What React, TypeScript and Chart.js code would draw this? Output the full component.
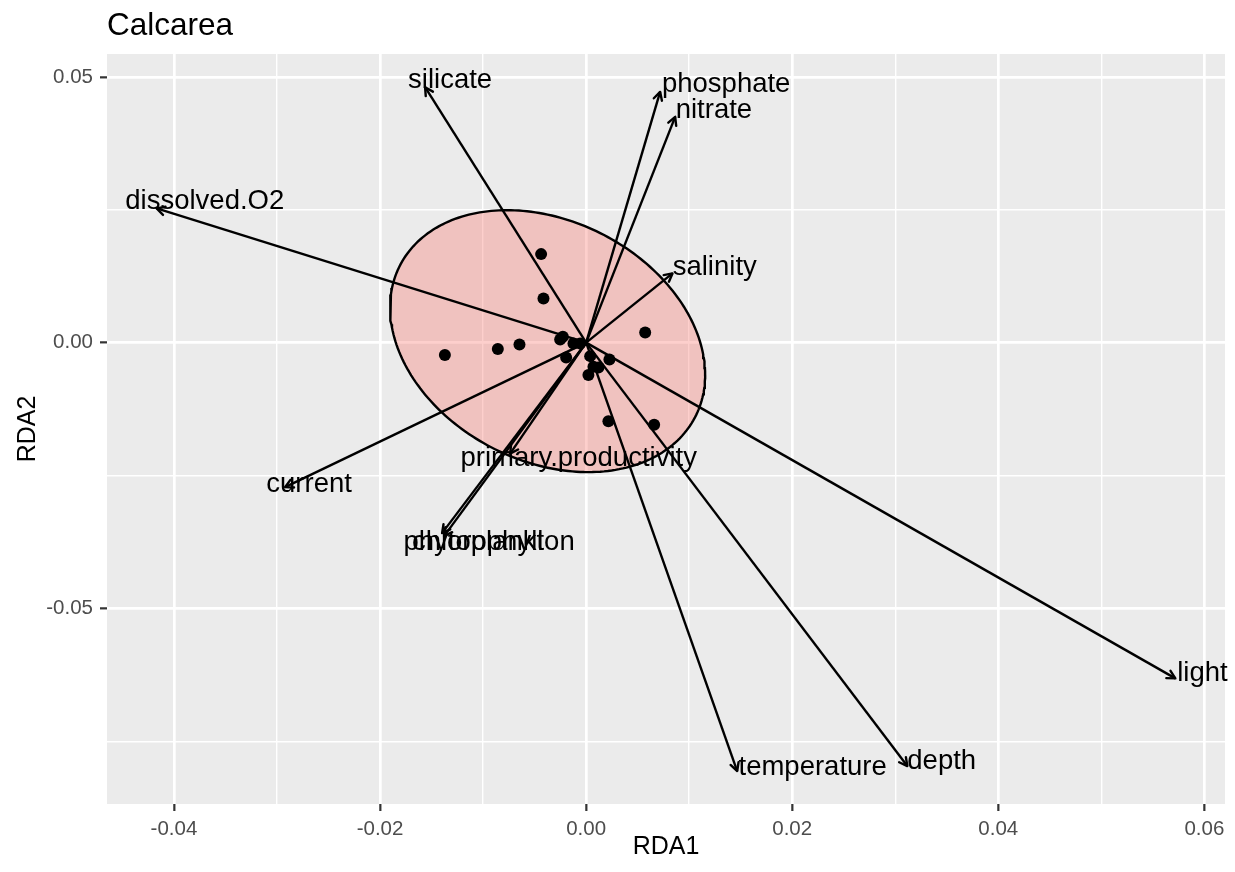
import React, { useEffect, useRef } from "react";
import { Chart, registerables } from "chart.js";

Chart.register(...registerables);

const FONT = "'Liberation Sans', Arial, Helvetica, sans-serif";

const plotTitle = "Calcarea";
const xAxisTitle = "RDA1";
const yAxisTitle = "RDA2";

// Site scores on the first two RDA axes
const siteRDA1 = [-0.00437, -0.00414, -0.01371, -0.00857, -0.00647, 0.00573, -0.00252, -0.00226, -0.00123, -0.00058, -0.00194, 0.00039, 0.00226, 0.00071, 0.00119, 0.00022, 0.00216, 0.0066];
const siteRDA2 = [0.01665, 0.00832, -0.00235, -0.00122, -0.00034, 0.00191, 0.0006, 0.00109, -0.00015, -0.00015, -0.00278, -0.00254, -0.00317, -0.00455, -0.00466, -0.00611, -0.01477, -0.01547];

// Environmental variable vectors (arrow tips) and their label anchors
const envNames = ["silicate", "phosphate", "nitrate", "salinity", "dissolved.O2", "current", "primary.productivity", "chlorophyll", "phytoplankton", "temperature", "depth", "light"];
const envRDA1 = [-0.01563, 0.00718, 0.00864, 0.00838, -0.04168, -0.02922, -0.00738, -0.01398, -0.01379, 0.01466, 0.03117, 0.05718];
const envRDA2 = [0.04806, 0.04718, 0.04248, 0.01302, 0.02524, -0.02718, -0.02088, -0.03584, -0.0364, -0.0806, -0.07966, -0.06317];
const envLabelRDA1 = [-0.0132, 0.01359, 0.0124, 0.01248, -0.03701, -0.02689, -0.00072, -0.01053, -0.00942, 0.02198, 0.03451, 0.05981];
const envLabelRDA2 = [0.04938, 0.04852, 0.04376, 0.01415, 0.02651, -0.02673, -0.02172, -0.03764, -0.03764, -0.07996, -0.07883, -0.06228];

// Confidence ellipse of the site scores: centre, spread along each axis, correlation
const ellipseCenter = [-0.00374, 0.00028];
const ellipseSpread = [0.01529, 0.02464];
const ellipseCorr = -0.257;

// Axis limits and breaks
const xLimits = [-0.0465, 0.062];
const yLimits = [-0.0868, 0.0543];
const xMajorBreaks = [-0.04, -0.02, 0, 0.02, 0.04, 0.06];
const xMinorBreaks = [-0.03, -0.01, 0.01, 0.03, 0.05];
const xBreakLabels = ["-0.04", "-0.02", "0.00", "0.02", "0.04", "0.06"];
const yMajorBreaks = [-0.05, 0, 0.05];
const yMinorBreaks = [-0.075, -0.025, 0.025];
const yBreakLabels = ["-0.05", "0.00", "0.05"];

const PANEL_BG = "#EBEBEB";
const ELLIPSE_FILL = "rgba(248, 118, 109, 0.35)";
const STROKE = 2.4;

function ellipsePath(steps: number) {
  const pts: { x: number; y: number }[] = [];
  const k = Math.sqrt(1 - ellipseCorr * ellipseCorr);
  for (let i = 0; i <= steps; i++) {
    const t = (i / steps) * Math.PI * 2;
    pts.push({
      x: ellipseCenter[0] + ellipseSpread[0] * Math.cos(t),
      y: ellipseCenter[1] + ellipseSpread[1] * (ellipseCorr * Math.cos(t) + k * Math.sin(t)),
    });
  }
  return pts;
}

const near = (a: number, b: number) => Math.abs(a - b) < 1e-9;
const isIn = (list: number[], v: number) => list.some((b) => near(b, v));

function axisOptions(
  limits: number[],
  major: number[],
  minor: number[],
  labels: string[],
  title: string,
  horizontal: boolean
) {
  const all = [...major, ...minor].sort((a, b) => a - b);
  return {
    type: "linear" as const,
    min: limits[0],
    max: limits[1],
    afterBuildTicks: (scale: any) => {
      scale.ticks = all.map((v) => ({ value: v }));
    },
    afterFit: (scale: any) => {
      if (horizontal) scale.height = 68;
      else scale.width = 107;
    },
    border: { display: false },
    grid: {
      drawTicks: true,
      tickLength: 7,
      color: "#FFFFFF",
      lineWidth: (ctx: any) => (ctx.tick && isIn(major, ctx.tick.value) ? 2.7 : 1.4),
      tickColor: (ctx: any) => (ctx.tick && isIn(major, ctx.tick.value) ? "#333333" : "rgba(0,0,0,0)"),
      tickWidth: 2.2,
    },
    ticks: {
      autoSkip: false,
      maxRotation: 0,
      padding: horizontal ? 6 : 7,
      color: "#4D4D4D",
      font: { family: FONT, size: 20.5 },
      callback: (value: number) => {
        const i = major.findIndex((b) => near(b, Number(value)));
        return i >= 0 ? labels[i] : "";
      },
    },
    title: {
      display: true,
      text: title,
      color: "#000000",
      font: { family: FONT, size: 25 },
      padding: horizontal ? { top: 0, bottom: 10 } : { top: 13, bottom: 0 },
    },
  };
}

const biplotDecorations = {
  id: "biplotDecorations",
  beforeDraw(chart: any) {
    const { ctx, chartArea } = chart;
    ctx.save();
    ctx.fillStyle = PANEL_BG;
    ctx.fillRect(chartArea.left, chartArea.top, chartArea.right - chartArea.left, chartArea.bottom - chartArea.top);
    ctx.fillStyle = "#000000";
    ctx.font = `31.5px ${FONT}`;
    ctx.textAlign = "left";
    ctx.textBaseline = "alphabetic";
    ctx.fillText(plotTitle, chartArea.left, 35);
    ctx.restore();
  },
  afterDatasetsDraw(chart: any) {
    const { ctx } = chart;
    const xs = chart.scales.x;
    const ys = chart.scales.y;
    const ox = xs.getPixelForValue(0);
    const oy = ys.getPixelForValue(0);
    ctx.save();
    // arrow heads
    ctx.strokeStyle = "#000000";
    ctx.lineWidth = STROKE;
    ctx.lineCap = "round";
    ctx.lineJoin = "round";
    const headLen = 9;
    const headAngle = (28 * Math.PI) / 180;
    envNames.forEach((_, i) => {
      const tx = xs.getPixelForValue(envRDA1[i]);
      const ty = ys.getPixelForValue(envRDA2[i]);
      const ang = Math.atan2(ty - oy, tx - ox);
      ctx.beginPath();
      ctx.moveTo(tx - headLen * Math.cos(ang - headAngle), ty - headLen * Math.sin(ang - headAngle));
      ctx.lineTo(tx, ty);
      ctx.lineTo(tx - headLen * Math.cos(ang + headAngle), ty - headLen * Math.sin(ang + headAngle));
      ctx.stroke();
    });
    // variable labels
    ctx.fillStyle = "#000000";
    ctx.font = `27.5px ${FONT}`;
    ctx.textAlign = "center";
    ctx.textBaseline = "middle";
    envNames.forEach((name, i) => {
      ctx.fillText(name, xs.getPixelForValue(envLabelRDA1[i]), ys.getPixelForValue(envLabelRDA2[i]));
    });
    ctx.restore();
  },
};

export default function App() {
  const canvasRef = useRef<HTMLCanvasElement | null>(null);

  useEffect(() => {
    if (!canvasRef.current) return;

    const arrowSets = envNames.map((name, i) => ({
      type: "line" as const,
      label: name,
      data: [
        { x: 0, y: 0 },
        { x: envRDA1[i], y: envRDA2[i] },
      ],
      borderColor: "#000000",
      borderWidth: STROKE,
      pointRadius: 0,
      fill: false,
      order: 2,
    }));

    const chart = new Chart(canvasRef.current, {
      type: "scatter",
      data: {
        datasets: [
          {
            type: "line" as const,
            label: "ellipse",
            data: ellipsePath(240),
            borderColor: "#000000",
            borderWidth: STROKE,
            backgroundColor: ELLIPSE_FILL,
            fill: "shape",
            pointRadius: 0,
            tension: 0,
            order: 3,
          },
          ...arrowSets,
          {
            type: "scatter" as const,
            label: "sites",
            data: siteRDA1.map((x, i) => ({ x, y: siteRDA2[i] })),
            backgroundColor: "#000000",
            borderWidth: 0,
            pointRadius: 6,
            order: 1,
          },
        ] as any,
      },
      options: {
        animation: false,
        responsive: false,
        devicePixelRatio: 1,
        layout: { padding: { top: 54, right: 10, bottom: 0, left: 0 } },
        plugins: {
          legend: { display: false },
          tooltip: { enabled: false },
          title: { display: false },
        },
        scales: {
          x: axisOptions(xLimits, xMajorBreaks, xMinorBreaks, xBreakLabels, xAxisTitle, true),
          y: axisOptions(yLimits, yMajorBreaks, yMinorBreaks, yBreakLabels, yAxisTitle, false),
        } as any,
      },
      plugins: [biplotDecorations],
    });

    return () => chart.destroy();
  }, []);

  return (
    <div style={{ position: "fixed", left: 0, top: 0, width: 1235, height: 872, background: "#FFFFFF" }}>
      <canvas ref={canvasRef} width={1235} height={872} />
    </div>
  );
}
